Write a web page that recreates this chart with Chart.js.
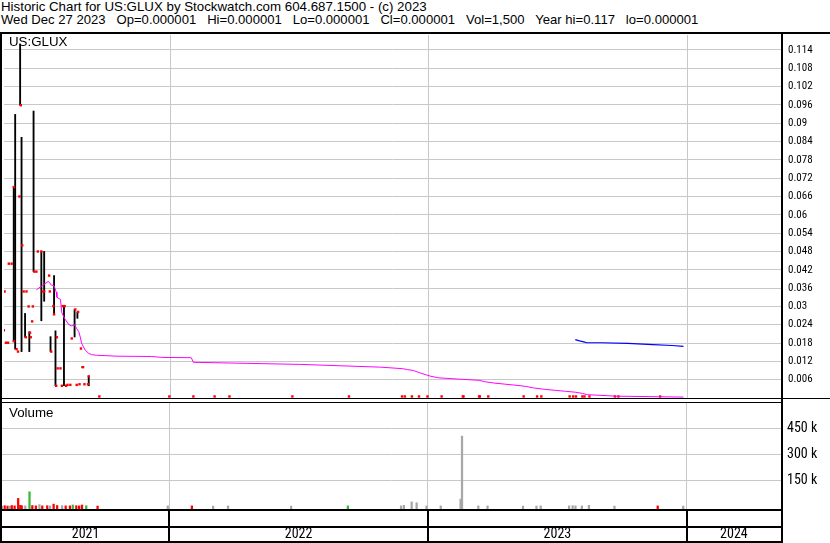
<!DOCTYPE html>
<html><head><meta charset="utf-8">
<script src="https://cdn.jsdelivr.net/npm/chart.js@4.4.1/dist/chart.umd.min.js"></script>
<style>
html,body{margin:0;padding:0;background:#fff;}
#wrap{position:relative;width:830px;height:543px;overflow:hidden;font-family:"Liberation Sans",Arial,sans-serif;color:#000;}
.t{position:absolute;font-size:13.3px;line-height:14px;white-space:pre;}
canvas{position:absolute;left:0;}
</style></head><body>
<div id="wrap">
<div class="t" style="left:1px;top:0px">Historic Chart for US:GLUX by Stockwatch.com 604.687.1500 - (c) 2023</div>
<div class="t" style="left:1px;top:13px;font-size:13.1px">Wed Dec 27 2023   Op=0.000001   Hi=0.000001   Lo=0.000001   Cl=0.000001   Vol=1,500   Year hi=0.117   lo=0.000001</div>
<canvas id="cp" width="830" height="371" style="top:31px"></canvas>
<canvas id="cv" width="830" height="110" style="top:401px"></canvas>
<canvas id="cx" width="830" height="34" style="top:509px"></canvas>
<div class="t" style="left:9px;top:35px">US:GLUX</div>
<div class="t" style="left:9px;top:406px">Volume</div>
</div>
<script>
// ---- data (x = days since 2021-01-01) ----
const viewStartDay = 129.2, viewEndDay = 1227.9;
const yearLabels = ['2021', '2022', '2023', '2024'];
const yearStartDays = [0, 365, 730, 1095, 1461];
const priceTickLabels = ['0.006','0.012','0.018','0.024','0.03','0.036','0.042','0.048','0.054','0.06','0.066','0.072','0.078','0.084','0.09','0.096','0.102','0.108','0.114'];
const volTickValues = [150000, 300000, 450000];
const volTickLabels = ['150 k', '300 k', '450 k'];

// daily high-low bars
const barDays = [143, 145, 152, 154, 159, 165, 171, 182, 186, 195, 200, 202, 214, 229, 233, 240, 249];
const barHigh = [0.0691, 0.0929, 0.1159, 0.0854, 0.0277, 0.0217, 0.0940, 0.0480, 0.0480, 0.0201, 0.0401, 0.0220, 0.0301, 0.0290, 0.0282, 0.0103, 0.0071];
const barLow  = [0.0186, 0.0160, 0.0959, 0.0152, 0.0199, 0.0152, 0.0414, 0.0253, 0.0317, 0.0152, 0.0274, 0.0040, 0.0040, 0.0200, 0.0261, 0.0099, 0.0040];

// open / close ticks (red)
const tickDays  = [129, 130, 132, 135, 136, 140, 143, 143, 147, 149, 151, 153, 155, 157, 161, 160, 164, 166, 167, 169, 170, 172, 175, 177, 182, 184, 186, 193, 194, 196, 199, 200, 203, 204, 205, 209, 211, 212, 215, 217, 219, 223, 225, 230, 232, 234, 236, 238, 241, 243, 248, 249, 264,
  363, 397, 427, 448, 537, 617, 692, 696, 706, 716, 728, 748, 778, 779, 801, 802, 814, 864, 883, 889, 929, 934, 938, 947, 950, 957, 993, 998, 1057, 1090];
const tickPrice = [0.0222, 0.0349, 0.0181, 0.0181, 0.0440, 0.0440, 0.0691, 0.0186, 0.0160, 0.0152, 0.0660, 0.0959, 0.0500, 0.0349, 0.0349, 0.0199, 0.0300, 0.0214, 0.0199, 0.0251, 0.0300, 0.0414, 0.0414, 0.0480, 0.0480, 0.0349, 0.0349, 0.0401, 0.0349, 0.0152, 0.0301, 0.0274, 0.0040, 0.0199, 0.0097, 0.0097, 0.0040, 0.0301, 0.0301, 0.0040, 0.0043, 0.0043, 0.0195, 0.0290, 0.0043, 0.0282, 0.0045, 0.0162, 0.0101, 0.0045, 0.0045, 0.0071, 0.0005,
  0.0005, 0.0005, 0.0005, 0.0005, 0.0005, 0.0005, 0.0005, 0.0005, 0.0005, 0.0005, 0.0005, 0.0005, 0.0005, 0.0005, 0.0005, 0.0005, 0.0005, 0.0005, 0.0005, 0.0005, 0.0005, 0.0005, 0.0005, 0.0005, 0.0005, 0.0005, 0.0005, 0.0005, 0.0005];

// moving averages
const maDays   = [175, 183, 192, 196, 200, 203, 204, 209, 211, 215, 221, 225, 229, 232, 235, 237, 239, 244, 249, 253, 260, 289, 338, 352, 394, 397, 549, 662, 693, 700, 708, 712, 719, 726, 733, 744, 778, 801, 810, 822, 839, 856, 867, 878, 895, 909, 923, 937, 947, 954, 994, 1090];
const maValues = [0.0354, 0.0368, 0.0382, 0.0370, 0.0368, 0.0347, 0.0330, 0.0323, 0.0279, 0.0260, 0.0240, 0.0236, 0.0240, 0.0227, 0.0217, 0.0200, 0.0179, 0.0157, 0.0146, 0.0142, 0.0140, 0.0137, 0.0136, 0.0133, 0.0132, 0.0117, 0.0110, 0.0101, 0.0096, 0.0093, 0.0090, 0.0087, 0.0081, 0.0076, 0.0071, 0.0066, 0.0061, 0.0058, 0.0053, 0.0049, 0.0045, 0.0041, 0.0038, 0.0033, 0.0028, 0.0025, 0.0022, 0.0019, 0.0015, 0.0011, 0.0006, 0.0003];
const ma2Days   = [937, 943, 949, 953, 974, 1011, 1047, 1074, 1090];
const ma2Values = [0.0191, 0.0187, 0.0184, 0.0181, 0.0181, 0.0179, 0.0175, 0.0172, 0.0169];

// volume (dir: 1 up, -1 down, 0 unchanged)
const volDays   = [129, 133, 137, 140, 143, 147, 152, 155, 157, 162, 168, 172, 177, 182, 186, 193, 197, 202, 207, 214, 219, 225, 229, 234, 238, 242, 248, 264,
  363, 397, 427, 448, 537, 617, 692, 696, 707, 714, 728, 748, 776, 778, 801, 814, 864, 883, 889, 929, 934, 938, 947, 957, 993, 1054, 1090];
const volValues = [2000, 4000, 2000, 2000, 5000, 3000, 46000, 6000, 4000, 3000, 84000, 5000, 3000, 10000, 3000, 4000, 3000, 13000, 5000, 4000, 3000, 3000, 8000, 4000, 3000, 8000, 4000, 2000,
  3000, 3000, 2000, 3000, 2000, 3000, 3000, 6000, 26000, 21000, 3000, 3000, 42000, 405000, 3000, 3000, 2000, 2000, 3000, 3000, 4000, 3000, 3000, 6000, 2000, 3000, 2000];
const volDir    = [0, -1, -1, 0, -1, -1, -1, -1, -1, 0, 1, -1, -1, 0, -1, -1, 0, -1, -1, 0, -1, -1, 1, -1, -1, -1, 1, -1,
  0, -1, 0, 0, 0, 1, 0, 0, 0, 0, 0, 0, 0, 0, 0, 0, 0, 0, 0, 0, 0, 0, 0, 0, 0, -1, 0];

// ---- styling ----
const GRID = '#c8c8c8';
const COND = { family: 'Roboto, "DejaVu Sans Condensed", sans-serif', weight: 'condensed' };
const boundaries = yearStartDays.slice(1, 4);
const VOL_MIN = -15000, VOL_MAX = 596000;
Chart.defaults.animation = false;
Chart.defaults.responsive = false;
Chart.defaults.devicePixelRatio = 1;
Chart.defaults.plugins.legend.display = false;
Chart.defaults.plugins.tooltip.enabled = false;

function xScale() {
  return {
    type: 'linear', min: viewStartDay, max: viewEndDay, offset: false,
    afterBuildTicks: s => { s.ticks = boundaries.map(v => ({value: v})); },
    afterFit: s => { s.height = 0; s.paddingLeft = s.paddingRight = 0; },
    ticks: { display: false },
    grid: { offset: false, color: GRID, lineWidth: 1, drawTicks: false },
    border: { display: false }
  };
}
function yScale(min, max, values, labels, size, pad) {
  return {
    position: 'right', min: min, max: max,
    afterBuildTicks: s => { s.ticks = values.map(v => ({value: v})); },
    afterFit: s => { s.width = 49; s.paddingTop = 0; s.paddingBottom = 0; },
    ticks: { padding: pad, color: '#000', font: Object.assign({ size: size }, COND), callback: (v, i) => labels[i] },
    grid: { color: GRID, lineWidth: 1, drawTicks: false },
    border: { display: false }
  };
}
function framePlugin(name, fn) {
  return { id: name, afterDraw(chart) { const c = chart.ctx; c.save(); c.fillStyle = '#000'; fn(c, chart); c.restore(); } };
}

// ---- price panel ----
new Chart(document.getElementById('cp'), {
  type: 'bar',
  data: { datasets: [
    { type: 'line', data: maDays.map((d, i) => ({x: d, y: maValues[i]})), borderColor: '#ff00ff', borderWidth: 1, pointRadius: 0, tension: 0, order: 1 },
    { type: 'line', data: ma2Days.map((d, i) => ({x: d, y: ma2Values[i]})), borderColor: '#0000ff', borderWidth: 1.2, pointRadius: 0, tension: 0, order: 1 },
    { type: 'line', showLine: false, data: tickDays.map((d, i) => ({x: d, y: tickPrice[i]})), pointStyle: 'rect', pointRadius: 1.7, pointBackgroundColor: '#ff0000', pointBorderWidth: 0, order: 2 },
    { type: 'bar', data: barDays.map((d, i) => ({x: d, y: [barLow[i], barHigh[i]]})), backgroundColor: '#000', barThickness: 1.2, grouped: false, order: 3 }
  ]},
  options: {
    layout: { padding: { left: 2, top: 3, right: 0, bottom: 2 } },
    scales: {
      x: xScale(),
      y: yScale(0, 0.11891, priceTickLabels.map(Number), priceTickLabels, 11, 7)
    }
  },
  plugins: [framePlugin('framePrice', (c, ch) => {
    const a = ch.chartArea;
    c.fillRect(0, 1, 830, 2);
    c.fillRect(0, 1, 2, ch.height);
    c.fillRect(a.right, 1, 2, ch.height);
    c.fillRect(0, a.bottom, a.right, 1);
    c.fillRect(a.right, a.bottom, 830 - a.right, 1);
  })]
});

// ---- volume panel ----
const volColor = d => d > 0 ? '#33bb33' : (d < 0 ? '#ff0000' : '#a8a8a8');
new Chart(document.getElementById('cv'), {
  type: 'bar',
  data: { datasets: [
    { data: volDays.map((d, i) => ({x: d, y: volValues[i]})), base: VOL_MIN, backgroundColor: volDir.map(volColor), barThickness: 1.6, grouped: false }
  ]},
  options: {
    layout: { padding: { left: 2, top: 2, right: 0, bottom: 2 } },
    scales: {
      x: xScale(),
      y: yScale(VOL_MIN, VOL_MAX, volTickValues, volTickLabels, 14, 6)
    }
  },
  plugins: [framePlugin('frameVol', (c, ch) => {
    const a = ch.chartArea;
    c.fillRect(0, 1, a.right, 1);
    c.fillRect(0, 0, 2, ch.height);
    c.fillRect(a.right, 0, 2, ch.height);
    c.fillRect(0, a.bottom, a.right + 2, 2);
  })]
});

// ---- year axis band ----
const yearMid = yearLabels.map((y, i) => (Math.max(yearStartDays[i], viewStartDay) + Math.min(yearStartDays[i + 1], viewEndDay)) / 2);
new Chart(document.getElementById('cx'), {
  type: 'line',
  data: { datasets: [] },
  options: {
    layout: { padding: { left: 2, top: 2, right: 49, bottom: 0 } },
    scales: {
      x: {
        type: 'linear', min: viewStartDay, max: viewEndDay,
        afterBuildTicks: s => { s.ticks = yearMid.map(v => ({value: v})); },
        afterFit: s => { s.height = 16; s.paddingLeft = s.paddingRight = 0; },
        ticks: { autoSkip: false, maxRotation: 0, padding: 0, color: '#000', font: Object.assign({ size: 14, lineHeight: 1.07 }, COND), callback: (v, i) => yearLabels[i] },
        grid: { display: false, drawTicks: false },
        border: { display: false }
      },
      y: { display: false }
    }
  },
  plugins: [framePlugin('frameYears', (c, ch) => {
    const a = ch.chartArea, xs = ch.scales.x;
    c.fillRect(0, 0, 2, ch.height);
    c.fillRect(a.right, 0, 2, ch.height);
    c.fillRect(0, a.bottom - 1, a.right, 2);
    c.fillRect(0, ch.height - 2, a.right + 2, 2);
    boundaries.forEach(b => { const p = Math.round(xs.getPixelForValue(b)); c.fillRect(p - 1, 0, 2, ch.height); });
  })]
});
</script>
</body></html>
